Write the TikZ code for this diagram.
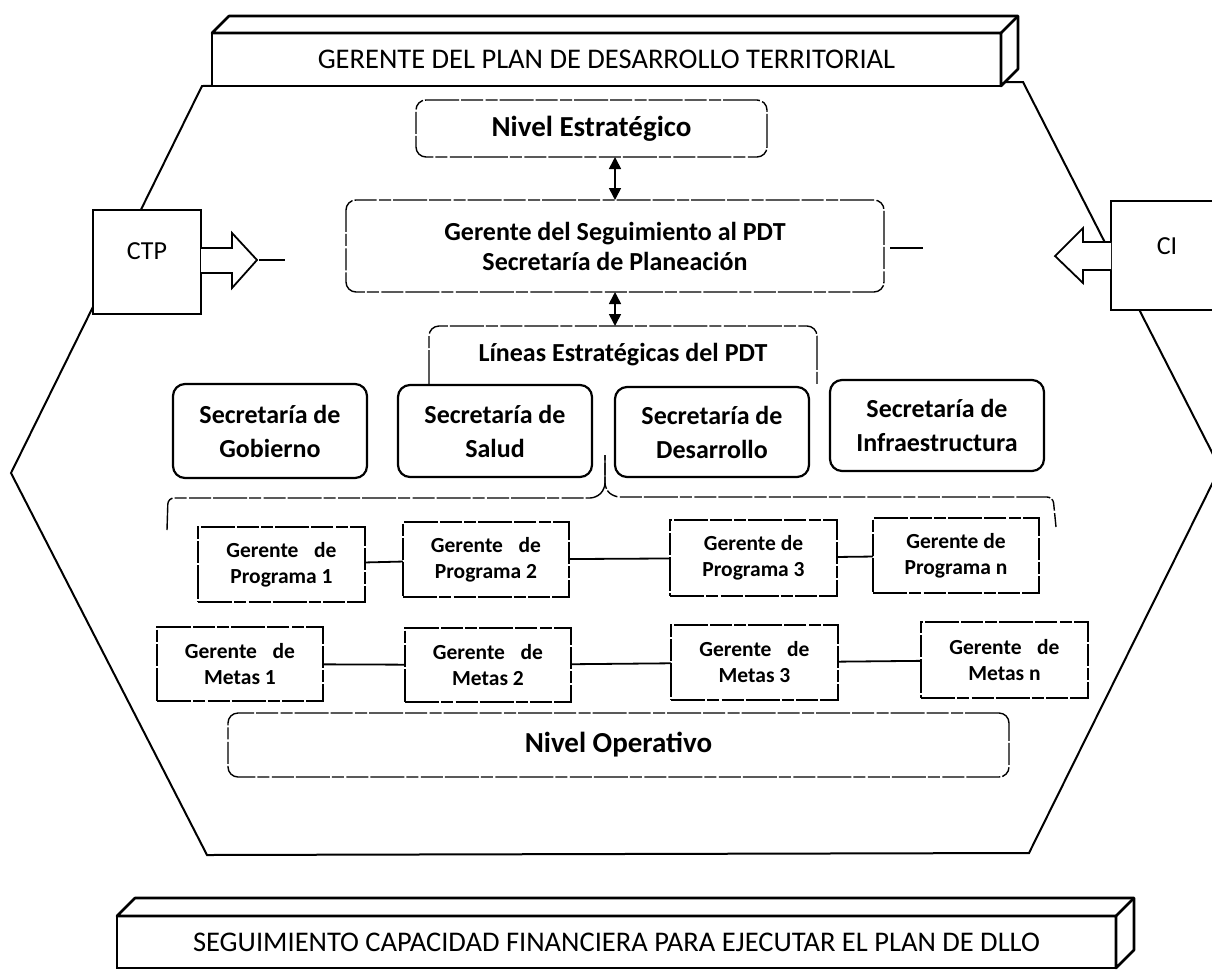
\documentclass[tikz,border=0pt]{standalone}
\usepackage{fontspec}
\setmainfont{Carlito}
\usetikzlibrary{arrows.meta,calc}
\begin{document}
\begin{tikzpicture}[x=1pt,y=-1pt,
  every node/.style={outer sep=0pt, inner sep=0pt},
  hexline/.style={line width=2pt, line join=miter},
  barface/.style={draw, line width=2.6pt, fill=white},
  bardepth/.style={line width=2.6pt, line join=round},
  sidebox/.style={draw, line width=2pt, fill=white},
  blockarrow/.style={draw, line width=1.8pt, fill=white, line join=miter},
  faint/.style={draw, line width=1.4pt, dash pattern=on 34pt off 2pt on 12pt off 2.5pt on 22pt off 2pt},
  faintround/.style={faint, rounded corners=10pt},
  secbox/.style={draw, line width=2.2pt, rounded corners=12pt, align=center, font=\bfseries\fontsize{26}{34}\selectfont},
  gbox/.style={faint, align=center, font=\bfseries\fontsize{21.5}{26}\selectfont},
  link/.style={line width=1.8pt},
  dbl/.style={line width=1.6pt, {Triangle[width=12pt,length=12pt]}-{Triangle[width=12pt,length=12pt]}},
  midtext/.style={font=\bfseries\fontsize{26}{30}\selectfont, align=center},
  bartext/.style={font=\fontsize{28.5}{32}\selectfont},
  sidetext/.style={font=\fontsize{26}{30}\selectfont},
]
\useasboundingbox (0,0) rectangle (1212,970);
\clip (0,0) rectangle (1212,970);

% outer hexagon
\draw[hexline] (202,86) -- (1023,82) -- (1220,468) -- (1029,853) -- (207,855) -- (11,473) -- cycle;

% top bar
\node[barface, minimum width=789pt, minimum height=53pt, bartext] (topbar) at (606.5,59.5) {GERENTE DEL PLAN DE DESARROLLO TERRITORIAL};
\draw[bardepth, fill=white] (topbar.north west) -- ++(17,-17) -- ($(topbar.north east)+(17,-17)$) -- ($(topbar.south east)+(17,-17)$) -- (topbar.south east) -- (topbar.north east) -- cycle;
\draw[bardepth] (topbar.north east) -- ++(17,-17);

% CTP
\node[sidebox, minimum width=108pt, minimum height=104pt] (ctp) at (147,262) {};
\node[sidetext] (ctplabel) at (147,251) {CTP};
\draw[blockarrow] (201,248) -- (232,248) -- (232,233) -- (257,260) -- (232,288) -- (232,273) -- (201,273);
\coordinate (ctptip) at (259,260);
\draw[faint] (ctptip) -- ++(26,0);

% CI
\node[sidebox, minimum width=130pt, minimum height=109pt] (ci) at (1176,255.5) {};
\node[sidetext] (cilabel) at (1167,246) {CI};
\draw[blockarrow] (1111,242) -- (1083,242) -- (1083,228) -- (1055,256) -- (1083,283) -- (1083,270) -- (1111,270);

% strategic level
\node[faintround, minimum width=351pt, minimum height=57pt, font=\bfseries\fontsize{29}{32}\selectfont] (nest) at (591.5,128.5) {Nivel Estratégico};
\node[faintround, minimum width=538pt, minimum height=92pt, midtext] (gsp) at (615,246) {Gerente del Seguimiento al PDT\\Secretaría de Planeación};
\coordinate (gspdash) at (890,248);
\draw[faint] (gspdash) -- ++(33,0);
\node[minimum width=388pt, minimum height=58pt, midtext] (lin) at (623,355) {Líneas Estratégicas del PDT};
\draw[faint, rounded corners=10pt] (lin.south west) -- (lin.north west) -- (lin.north east) -- (lin.south east);

\draw[dbl] (gsp.north |- nest.south) -- (gsp.north);
\draw[dbl] (gsp.south) -- (gsp.south |- lin.north);

% secretarias
\node[secbox, minimum width=194pt, minimum height=94pt] (sg) at (270,431) {Secretaría de\\Gobierno};
\node[secbox, minimum width=194pt, minimum height=92pt] (ss) at (495,431) {Secretaría de\\Salud};
\node[secbox, minimum width=194pt, minimum height=90pt] (sd) at (712,432) {Secretaría de\\Desarrollo};
\node[secbox, minimum width=214pt, minimum height=91pt] (si) at (937,425.5) {Secretaría de\\Infraestructura};

% brace
\draw[faint, rounded corners=6pt] (167,530) -- (168,498) -- (596,498) -- (605,489) -- (605,455);
\draw[faint, rounded corners=6pt] (605,455) -- (605,489) -- (614,497) -- (1053,497) -- (1056,527);

% program managers
\node[gbox, minimum width=167pt, minimum height=75pt] (p1) at (281.5,564.5) {Gerente\hspace{0.5em} de\\Programa 1};
\node[gbox, minimum width=166pt, minimum height=75pt] (p2) at (486,559.5) {Gerente\hspace{0.5em} de\\Programa 2};
\node[gbox, minimum width=167pt, minimum height=76pt] (p3) at (753.5,558) {Gerente de\\Programa 3};
\node[gbox, minimum width=166pt, minimum height=75pt] (pn) at (956,555.5) {Gerente de\\Programa n};
\draw[link] (p1) -- (p2);
\draw[link] (p2) -- (p3);
\draw[link] (p3) -- (pn);

% goal managers
\node[gbox, minimum width=166pt, minimum height=74pt] (m1) at (240,664) {Gerente\hspace{0.5em} de\\Metas 1};
\node[gbox, minimum width=166pt, minimum height=74pt] (m2) at (488,665) {Gerente\hspace{0.5em} de\\Metas 2};
\node[gbox, minimum width=167pt, minimum height=75pt] (m3) at (754.5,662.5) {Gerente\hspace{0.5em} de\\Metas 3};
\node[gbox, minimum width=167pt, minimum height=76pt] (mn) at (1004.5,660) {Gerente\hspace{0.5em} de\\Metas n};
\draw[link] (m1) -- (m2);
\draw[link] (m2) -- (m3);
\draw[link] (m3) -- (mn);

% operative level
\node[faintround, minimum width=781pt, minimum height=64pt, font=\bfseries\fontsize{29}{32}\selectfont] (nop) at (618.5,745) {Nivel Operativo};

% bottom bar
\node[barface, minimum width=999pt, minimum height=52pt, bartext] (botbar) at (616.5,942) {SEGUIMIENTO CAPACIDAD FINANCIERA PARA EJECUTAR EL PLAN DE DLLO};
\draw[bardepth, fill=white] (botbar.north west) -- ++(18,-18) -- ($(botbar.north east)+(18,-18)$) -- ($(botbar.south east)+(18,-18)$) -- (botbar.south east) -- (botbar.north east) -- cycle;
\draw[bardepth] (botbar.north east) -- ++(18,-18);
\end{tikzpicture}
\end{document}
